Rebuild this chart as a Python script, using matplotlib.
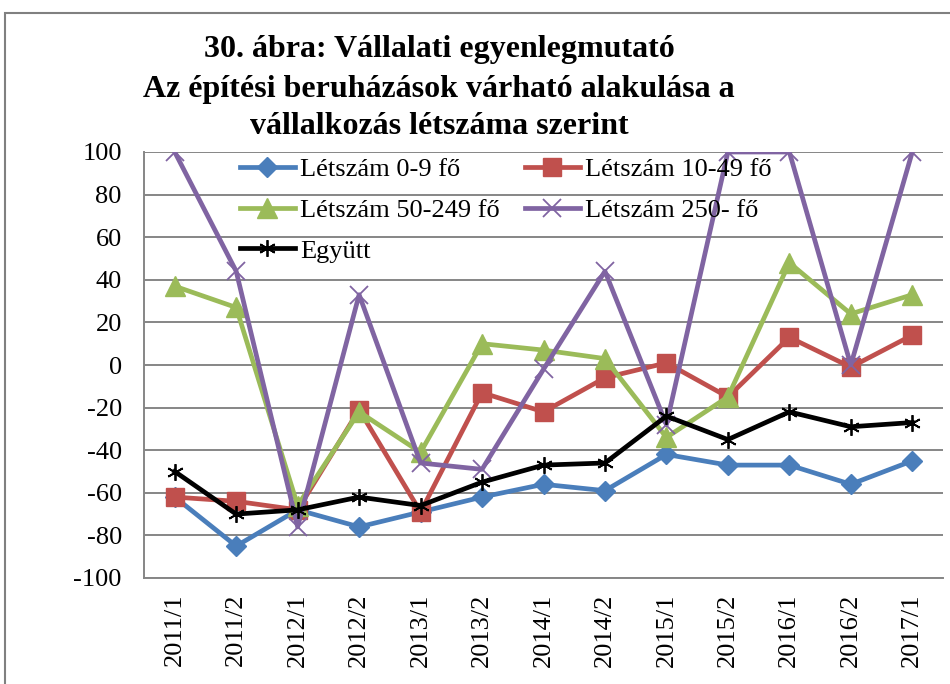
import matplotlib
matplotlib.use("Agg")
import matplotlib.pyplot as plt
from matplotlib.patches import Rectangle

categories = ["2011/1", "2011/2", "2012/1", "2012/2", "2013/1", "2013/2", "2014/1",
              "2014/2", "2015/1", "2015/2", "2016/1", "2016/2", "2017/1"]
s_0_9 = [-62, -85, -68, -76, -69, -62, -56, -59, -42, -47, -47, -56, -45]
s_10_49 = [-62, -64, -68, -21, -69, -13, -22, -6, 1, -15, 13, -1, 14]
s_50_249 = [37, 27, -66, -22, -41, 10, 7, 3, -34, -15, 48, 24, 33]
s_250 = [100, 44, -76, 33, -46, -49, -2, 44, -28, 100, 100, 0, 100]
s_total = [-50, -70, -68, -62, -66, -55, -47, -46, -24, -35, -22, -29, -27]
yticks = list(range(-100, 101, 20))
title_lines = ["30. ábra: Vállalati egyenlegmutató",
               "Az építési beruházások várható alakulása a",
               "vállalkozás létszáma szerint"]

plt.rcParams['font.family'] = ['Liberation Serif', 'DejaVu Serif']
plt.rcParams['axes.unicode_minus'] = False

fig = plt.figure(figsize=(9.5, 6.84), dpi=100)
ax = fig.add_axes([144/950, 1-578/684, (943-144)/950, (578-152)/684])

x = list(range(len(categories)))
lw = 3.4
h1, = ax.plot(x, s_0_9, color="#4a7ebb", lw=lw, marker="D", ms=10.5, label="Létszám 0-9 fő")
h2, = ax.plot(x, s_10_49, color="#c0504d", lw=lw, marker="s", ms=13.5, label="Létszám 10-49 fő")
h3, = ax.plot(x, s_50_249, color="#9bbb59", lw=lw, marker="^", ms=14, label="Létszám 50-249 fő")
h4, = ax.plot(x, s_250, color="#8064a2", lw=lw, marker="x", ms=13, mew=1.3, label="Létszám 250- fő")
h5, = ax.plot(x, s_total, color="black", lw=lw, marker=(6, 2, 0), ms=12, mew=1.3, label="Együtt")

ax.set_xlim(-0.5, len(categories) - 0.5)
ax.set_ylim(-100, 100)
ax.set_yticks(yticks)
ax.set_xticks(x)
ax.set_xticklabels(categories, rotation=90, fontsize=19)
ax.tick_params(axis='y', labelsize=19, length=0, pad=16)
ax.tick_params(axis='x', length=0, pad=11)
ax.grid(axis='y', color="#868686", lw=1.4)
ax.set_axisbelow(True)
for side in ["top", "right"]:
    ax.spines[side].set_visible(False)
ax.spines["left"].set_color("#868686")
ax.spines["left"].set_linewidth(1.4)
ax.spines["bottom"].set_color("#868686")
ax.spines["bottom"].set_linewidth(1.4)

leg = ax.legend(handles=[h1, h3, h5, h2, h4], ncol=2, loc="upper left",
                bbox_to_anchor=(0.12, 0.986), frameon=False, fontsize=19,
                handlelength=2.08, handletextpad=0.2, columnspacing=0.95,
                labelspacing=0.65, borderaxespad=0, borderpad=0)

ys = [50, 89, 126]
for t, yy in zip(title_lines, ys):
    fig.text(439/950, 1 - yy/684, t, ha="center", va="center",
             fontsize=23, fontweight="bold")

fig.patches.append(Rectangle((5/950, -0.1), 1.2, 1 - 13/684 + 0.1,
                             transform=fig.transFigure, fill=False,
                             edgecolor="#808080", lw=1.5))

fig.savefig("out.png", dpi=100)
